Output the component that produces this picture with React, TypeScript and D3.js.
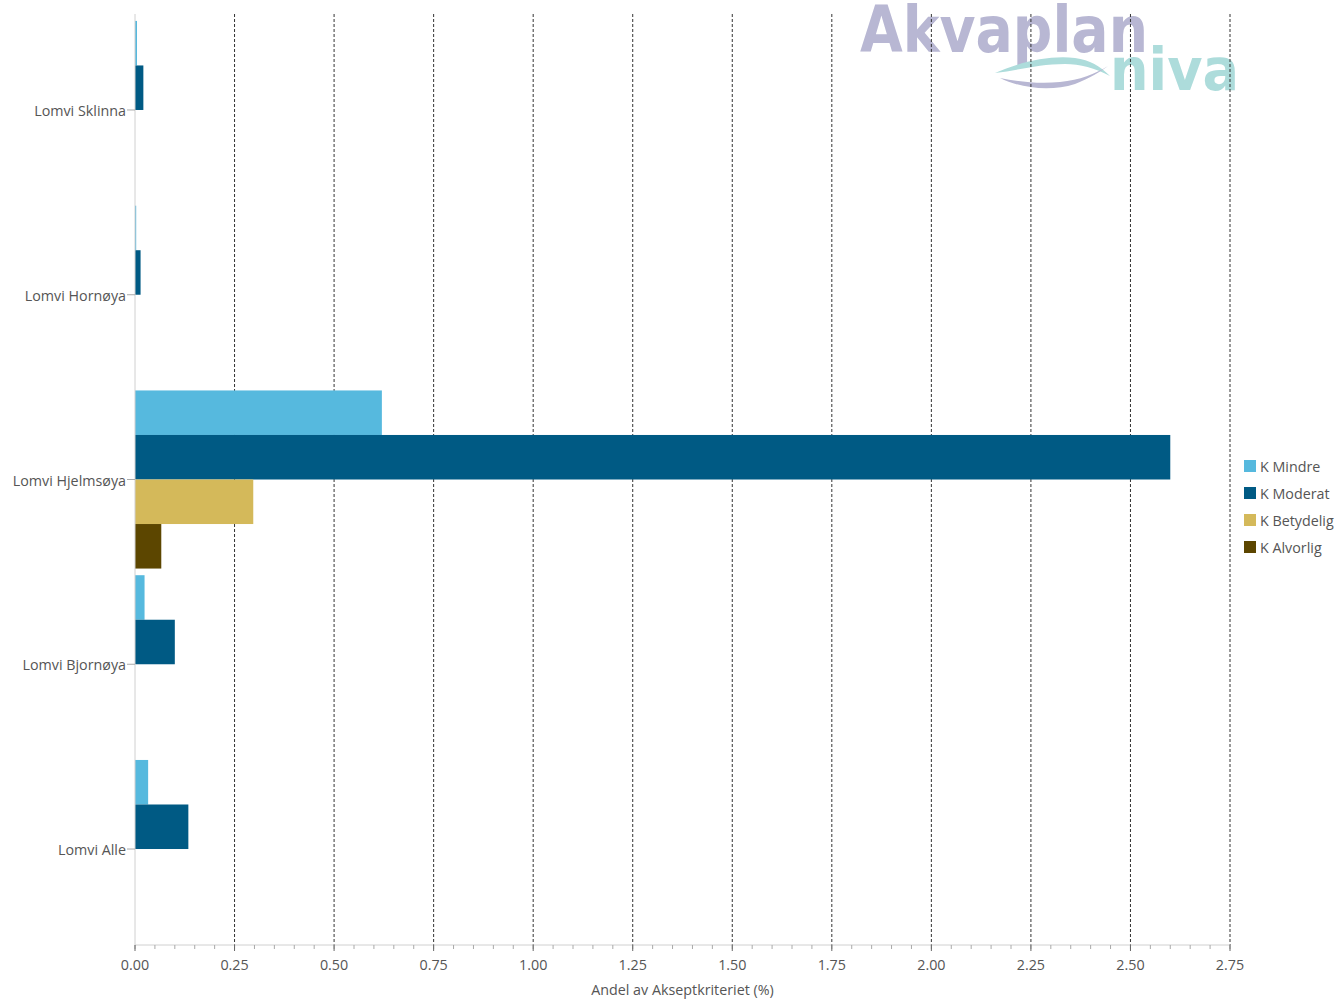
import React from "react";
import * as d3 from "d3";

const categories = ["Lomvi Sklinna", "Lomvi Hornøya", "Lomvi Hjelmsøya", "Lomvi Bjornøya", "Lomvi Alle"];
const seriesNames = ["K Mindre", "K Moderat", "K Betydelig", "K Alvorlig"];
const seriesColors = ["#56b9de", "#005a84", "#d4b95a", "#5c4600"];
const kMindre = [0.005, 0.003, 0.62, 0.024, 0.033];
const kModerat = [0.021, 0.014, 2.6, 0.1, 0.134];
const kBetydelig = [0, 0, 0.297, 0, 0];
const kAlvorlig = [0, 0, 0.066, 0, 0];
const xTicks = [0, 0.25, 0.5, 0.75, 1, 1.25, 1.5, 1.75, 2, 2.25, 2.5, 2.75];
const xTitle = "Andel av Akseptkriteriet (%)";

const seriesValues = [kMindre, kModerat, kBetydelig, kAlvorlig];

export default function App() {
  const W = 1339, H = 999;
  const left = 135, right = 1230, top = 17.6, bottom = 941.4;
  const x = d3.scaleLinear().domain([0, 2.75]).range([left, right]);
  const y = d3.scaleBand().domain(categories).range([top, bottom]).paddingInner(0.036).paddingOuter(0.018);
  const sub = d3.scaleBand().domain(seriesNames).range([0, y.bandwidth()]);
  const minorTicks = d3.range(0, 2.7501, 0.05).map((v) => +v.toFixed(2));
  const font = "'Segoe UI', 'Open Sans', 'Noto Sans', sans-serif";
  const axisY = 945;

  return (
    <svg width={W} height={H} style={{ position: "absolute", left: 0, top: 0, background: "#fff" }} fontFamily={font}>
      {/* logo */}
      <g>
        <text x={860} y={52} fontFamily="'DejaVu Sans', sans-serif" fontWeight="bold" fontSize={64}
          fill="#b8b7d3" textLength={288} lengthAdjust="spacingAndGlyphs">Akvaplan</text>
        <text x={1110} y={90} fontFamily="'DejaVu Sans', sans-serif" fontWeight="bold" fontSize={58}
          fill="#addcdb" textLength={129} lengthAdjust="spacingAndGlyphs">niva</text>
        <path d="M995,73 C1020,62 1050,55 1075,58 C1090,60 1100,66 1110,76 C1095,68 1080,64 1065,64 C1040,64 1020,70 995,73 Z" fill="#addcdb" />
        <path d="M1000,78 C1020,88 1050,92 1075,84 C1090,78 1100,72 1108,66 C1095,74 1080,80 1060,82 C1040,84 1020,82 1000,78 Z" fill="#b8b7d3" />
      </g>

      {/* gridlines */}
      {xTicks.filter((t) => t > 0).map((t) => (
        <line key={"g" + t} x1={x(t)} x2={x(t)} y1={14} y2={axisY} stroke="#333" strokeWidth={1} strokeDasharray="3,2" />
      ))}

      {/* bars */}
      {categories.map((c, ci) => (
        <g key={c} transform={`translate(0,${y(c)})`}>
          {seriesNames.map((s, si) => {
            const v = seriesValues[si][ci];
            if (!v) return null;
            return (
              <rect key={s} x={x(0)} y={sub(s)} width={x(v) - x(0)} height={sub.bandwidth()} fill={seriesColors[si]} />
            );
          })}
        </g>
      ))}

      {/* y axis */}
      <line x1={left} x2={left} y1={14} y2={axisY} stroke="#d0d0d0" strokeWidth={1} />
      {categories.map((c) => {
        const cy = (y(c) as number) + y.bandwidth() / 2;
        return (
          <g key={"l" + c}>
            <line x1={left - 8} x2={left} y1={cy} y2={cy} stroke="#aaa" />
            <text x={left - 9} y={cy + 1} dy="0.35em" textAnchor="end" fontSize={14.3} fill="#555">{c}</text>
          </g>
        );
      })}

      {/* x axis */}
      <line x1={left} x2={right} y1={axisY} y2={axisY} stroke="#d0d0d0" strokeWidth={1} />
      {minorTicks.map((t) => (
        <line key={"m" + t} x1={x(t)} x2={x(t)} y1={axisY} y2={axisY + 4} stroke="#aaa" />
      ))}
      {xTicks.map((t) => (
        <g key={"t" + t}>
          <line x1={x(t)} x2={x(t)} y1={axisY} y2={axisY + 6} stroke="#666" />
          <text x={x(t)} y={965} dy="0.35em" textAnchor="middle" fontSize={14.3} fill="#555">{d3.format(".2f")(t)}</text>
        </g>
      ))}
      <text x={(left + right) / 2} y={990} dy="0.35em" textAnchor="middle" fontSize={14.3} fill="#555">{xTitle}</text>

      {/* legend */}
      {seriesNames.map((s, i) => (
        <g key={"lg" + s} transform={`translate(1244,${466 + i * 27})`}>
          <rect x={0} y={-6} width={12} height={12} fill={seriesColors[i]} />
          <text x={16} y={1} dy="0.35em" fontSize={14.3} fill="#555">{s}</text>
        </g>
      ))}
    </svg>
  );
}
